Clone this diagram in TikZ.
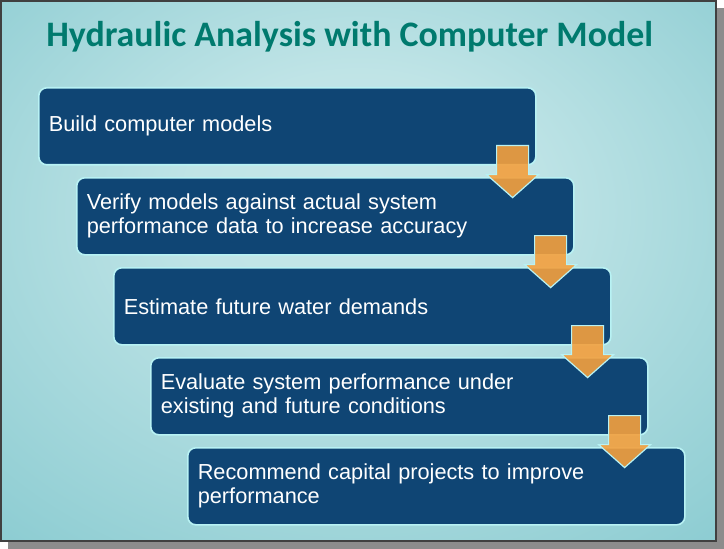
\documentclass[tikz,border=0pt]{standalone}
\usepackage{fontspec}
\setmainfont{Liberation Sans}
\newfontfamily\titlefont{Carlito}
\usetikzlibrary{calc}
\definecolor{bgin}{HTML}{C6E7E9}
\definecolor{bgout}{HTML}{74C1C8}
\definecolor{titleteal}{HTML}{007A6E}
\definecolor{boxblue}{HTML}{0F4574}
\definecolor{boxedge}{HTML}{B8F2F4}
\definecolor{arroworange}{HTML}{F4A03E}
\pgfdeclareradialshading{slidebg}{\pgfpoint{0bp}{8bp}}{color(0bp)=(bgin); color(12bp)=(bgin!92!bgout); color(50bp)=(bgout); color(60bp)=(bgout)}
\tikzset{
  stepbox/.style={draw=boxedge, line width=1.2pt, fill=boxblue, rounded corners=6pt,
    anchor=north west, minimum width=372.75pt, minimum height=57.75pt,
    text width=357.75pt, inner xsep=7.5pt, align=left, text=white,
    font=\fontsize{16.3}{18}\selectfont},
  flowarrow/.style={draw=boxedge, line width=0.9pt, fill=arroworange, fill opacity=0.9, line join=miter}
}
\begin{document}
\begin{tikzpicture}[x=0.75pt,y=-0.75pt]
	\useasboundingbox (0,0) rectangle (724,549);
	% slide and its shadow
	\fill[black!45] (8,8) rectangle (724,549);
	\shade[shading=slidebg] (1,1) rectangle (716,541);
	\draw[black!75, line width=1.5pt] (1,1) rectangle (716,541);
	\node[anchor=base west, inner sep=0pt, text=titleteal, font=\titlefont\bfseries\fontsize{26.9}{30}\selectfont] (title) at (46,47) {Hydraulic Analysis with Computer Model};
	% steps
	\node[stepbox] (b1) at (38,87) {Build computer models};
	\node[stepbox] (b2) at (76,177) {Verify models against actual system\\performance data to increase accuracy};
	\node[stepbox] (b3) at (113,267) {Estimate future water demands};
	\node[stepbox] (b4) at (150,357) {Evaluate system performance under\\existing and future conditions};
	\node[stepbox] (b5) at (187,447) {Recommend capital projects to improve\\performance};
	% arrows between steps
	\draw[flowarrow] ($(b1.south east)+(-40,-20)$) -- ++(32,0) -- ++(0,29) -- ++(10,0) -- ++(-26,23) -- ++(-26,-23) -- ++(10,0) -- cycle;
	\draw[flowarrow] ($(b2.south east)+(-40,-20)$) -- ++(32,0) -- ++(0,29) -- ++(10,0) -- ++(-26,23) -- ++(-26,-23) -- ++(10,0) -- cycle;
	\draw[flowarrow] ($(b3.south east)+(-40,-20)$) -- ++(32,0) -- ++(0,29) -- ++(10,0) -- ++(-26,23) -- ++(-26,-23) -- ++(10,0) -- cycle;
	\draw[flowarrow] ($(b4.south east)+(-40,-20)$) -- ++(32,0) -- ++(0,29) -- ++(10,0) -- ++(-26,23) -- ++(-26,-23) -- ++(10,0) -- cycle;
\end{tikzpicture}
\end{document}
